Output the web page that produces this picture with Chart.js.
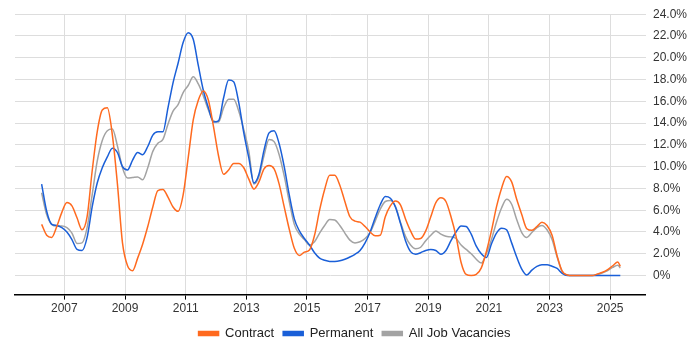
<!DOCTYPE html>
<html>
<head>
<meta charset="utf-8">
<script src="https://cdn.jsdelivr.net/npm/chart.js@4/dist/chart.umd.min.js"></script>
<style>
  html, body { margin: 0; padding: 0; background: #fff; }
  #wrap { width: 700px; height: 350px; }
</style>
</head>
<body>
<div id="wrap"><canvas id="trend"></canvas></div>
<script>
// every two months, Apr 2006 .. May 2025
var dates = [
    '2006-04', '2006-06', '2006-08', '2006-10', '2006-12',
    '2007-02', '2007-04', '2007-06', '2007-08', '2007-10', '2007-12',
    '2008-02', '2008-04', '2008-06', '2008-08', '2008-10', '2008-12',
    '2009-02', '2009-04', '2009-06', '2009-08', '2009-10', '2009-12',
    '2010-02', '2010-04', '2010-06', '2010-08', '2010-10', '2010-12',
    '2011-02', '2011-04', '2011-06', '2011-08', '2011-10', '2011-12',
    '2012-02', '2012-04', '2012-06', '2012-08', '2012-10', '2012-12',
    '2013-02', '2013-04', '2013-06', '2013-08', '2013-10', '2013-12',
    '2014-02', '2014-04', '2014-06', '2014-08', '2014-10', '2014-12',
    '2015-02', '2015-04', '2015-06', '2015-08', '2015-10', '2015-12',
    '2016-02', '2016-04', '2016-06', '2016-08', '2016-10', '2016-12',
    '2017-02', '2017-04', '2017-06', '2017-08', '2017-10', '2017-12',
    '2018-02', '2018-04', '2018-06', '2018-08', '2018-10', '2018-12',
    '2019-02', '2019-04', '2019-06', '2019-08', '2019-10', '2019-12',
    '2020-02', '2020-04', '2020-06', '2020-08', '2020-10', '2020-12',
    '2021-02', '2021-04', '2021-06', '2021-08', '2021-10', '2021-12',
    '2022-02', '2022-04', '2022-06', '2022-08', '2022-10', '2022-12',
    '2023-02', '2023-04', '2023-06', '2023-08', '2023-10', '2023-12',
    '2024-02', '2024-04', '2024-06', '2024-08', '2024-10', '2024-12',
    '2025-02', '2025-04', '2025-05'
];

var contract = [
    4.7, 3.7, 3.5, 4.5, 5.8,
    6.7, 6.4, 5.3, 4.2, 5.4, 9.6,
    13.2, 15.2, 15.4, 12.9, 8.4, 3.0,
    0.9, 0.45, 1.6, 2.9, 4.5, 6.3,
    7.8, 7.9, 7.2, 6.3, 5.9, 7.4,
    10.8, 14.3, 16.1, 16.95, 16.1, 13.7,
    11.0, 9.3, 9.7, 10.3, 10.3, 9.9,
    8.85, 7.95, 8.6, 9.8, 10.1, 9.8,
    8.4, 6.3, 4.25, 2.5, 1.85, 2.15,
    2.35, 3.7, 6.0, 7.9, 9.2, 9.2,
    8.3, 6.8, 5.4, 5.0, 4.9, 4.5,
    4.0, 3.65, 3.7, 5.4, 6.4, 6.85,
    6.5, 5.2, 4.1, 3.35, 3.4, 4.1,
    5.4, 6.7, 7.15, 6.8, 5.4, 3.6,
    1.2, 0.1, 0, 0.1, 0.7, 2.2,
    4.1, 6.3, 8.0, 9.1, 8.6, 7.0,
    5.6, 4.3, 4.15, 4.5, 4.9, 4.6,
    3.7, 1.8, 0.4, 0.05, 0, 0,
    0, 0, 0, 0.15, 0.3, 0.55,
    0.9, 1.25, 0.85
];

var permanent = [
    8.4, 5.9, 4.7, 4.6, 4.4,
    4.0, 3.3, 2.4, 2.3, 3.5, 6.3,
    8.5, 9.9, 10.9, 11.7, 11.3, 10.0,
    9.7, 10.6, 11.3, 11.1, 11.85, 12.9,
    13.2, 13.2, 15.4, 17.7, 19.5, 21.4,
    22.3, 21.7, 19.3, 17.0, 15.4, 14.1,
    14.2, 16.3, 17.95, 17.8, 15.9, 13.1,
    10.8, 8.5, 9.3, 11.5, 13.1, 13.3,
    12.1, 10.0, 7.4, 5.2, 4.1, 3.4,
    2.8, 2.1, 1.6, 1.4, 1.3, 1.3,
    1.35, 1.5, 1.7, 1.95, 2.3, 3.0,
    4.0, 5.3, 6.5, 7.25, 7.1, 6.3,
    4.8, 3.2, 2.2, 1.95, 2.1, 2.3,
    2.4, 2.3, 1.95, 2.3, 3.2, 4.0,
    4.55, 4.5, 3.8, 2.7, 2.0, 1.65,
    2.9, 3.9, 4.35, 4.2, 3.0, 1.7,
    0.6, 0.05, 0.5, 0.85, 1.0, 1.0,
    0.85, 0.65, 0.2, 0, 0, 0,
    0, 0, 0, 0, 0, 0,
    0, 0, 0
];

var allJobs = [
    7.6, 5.6, 4.7, 4.55, 4.55,
    4.4, 3.9, 2.95, 3.0, 4.4, 7.4,
    10.5, 12.4, 13.3, 13.45, 11.9, 9.9,
    8.95, 9.0, 9.05, 8.8, 9.9, 11.4,
    12.15, 12.5, 13.9, 15.1, 15.7, 16.8,
    17.45, 18.25, 17.6, 16.5, 15.2, 14.2,
    14.1, 15.4, 16.2, 16.2, 15.1, 13.4,
    11.4, 8.4, 9.1, 11.0, 12.5, 12.3,
    11.1, 9.15, 6.8, 4.7, 3.8, 3.3,
    2.8, 3.1, 3.9, 4.6, 5.15, 5.1,
    4.6, 3.9, 3.25, 3.0, 3.1, 3.4,
    3.95, 5.0, 6.1, 6.8, 6.9, 6.35,
    4.9, 3.6, 2.8, 2.45, 2.6, 3.2,
    3.7, 4.1, 3.8, 3.6, 3.55, 3.4,
    2.8, 2.4, 2.0, 1.5, 1.15, 2.0,
    3.3, 4.9, 6.2, 7.0, 6.55, 5.15,
    3.95, 3.5, 3.95, 4.4, 4.6, 4.2,
    3.3, 1.7, 0.35, 0.05, 0, 0,
    0, 0, 0, 0.1, 0.25, 0.45,
    0.75, 0.95, 0.7
];

var xTicks = [2007, 2009, 2011, 2013, 2015, 2017, 2019, 2021, 2023, 2025];
var yTicks = [0, 2, 4, 6, 8, 10, 12, 14, 16, 18, 20, 22, 24];

// 'YYYY-MM' -> decimal year
function toYear(d) {
    var p = d.split('-');
    return Number(p[0]) + (Number(p[1]) - 1) / 12;
}

function series(values) {
    return values.map(function (v, i) {
        return { x: toYear(dates[i]), y: v };
    });
}

function line(label, values, color) {
    return {
        label: label,
        data: series(values),
        borderColor: color,
        backgroundColor: color,
        borderWidth: 1.5,
        pointRadius: 0,
        cubicInterpolationMode: 'monotone',
        fill: false
    };
}

Chart.defaults.font.family = '"Liberation Sans", Arial, sans-serif';
Chart.defaults.color = '#333';

new Chart(document.getElementById('trend'), {
    type: 'line',
    data: {
        datasets: [
            line('Contract', contract, '#ff6a1f'),
            line('Permanent', permanent, '#1a5fd8'),
            line('All Job Vacancies', allJobs, '#a3a3a3')
        ]
    },
    options: {
        responsive: true,
        maintainAspectRatio: false,
        animation: false,
        layout: { padding: { left: 15, right: 6, top: 10, bottom: 0 } },
        plugins: {
            tooltip: { enabled: false },
            legend: {
                position: 'bottom',
                labels: {
                    boxWidth: 20,
                    boxHeight: 4,
                    padding: 9,
                    color: '#222',
                    font: { size: 13 }
                }
            }
        },
        scales: {
            x: {
                type: 'linear',
                min: 2005.372,
                max: 2026.18,
                afterBuildTicks: function (axis) {
                    axis.ticks = xTicks.map(function (v) { return { value: v }; });
                },
                ticks: {
                    font: { size: 12 },
                    color: '#333',
                    padding: 2,
                    maxRotation: 0,
                    callback: function (v) { return String(v); }
                },
                grid: { color: '#dddddd', tickColor: '#000', tickLength: 5 },
                border: { color: '#000', width: 1.5 }
            },
            y: {
                position: 'right',
                min: -1.75,
                max: 24,
                afterBuildTicks: function (axis) {
                    axis.ticks = yTicks.map(function (v) { return { value: v }; });
                },
                ticks: {
                    font: { size: 12 },
                    color: '#333',
                    padding: 7,
                    callback: function (v) { return v === 0 ? '0%' : v.toFixed(1) + '%'; }
                },
                grid: { color: '#dddddd', drawTicks: false },
                border: { display: false }
            }
        }
    }
});
</script>
</body>
</html>
